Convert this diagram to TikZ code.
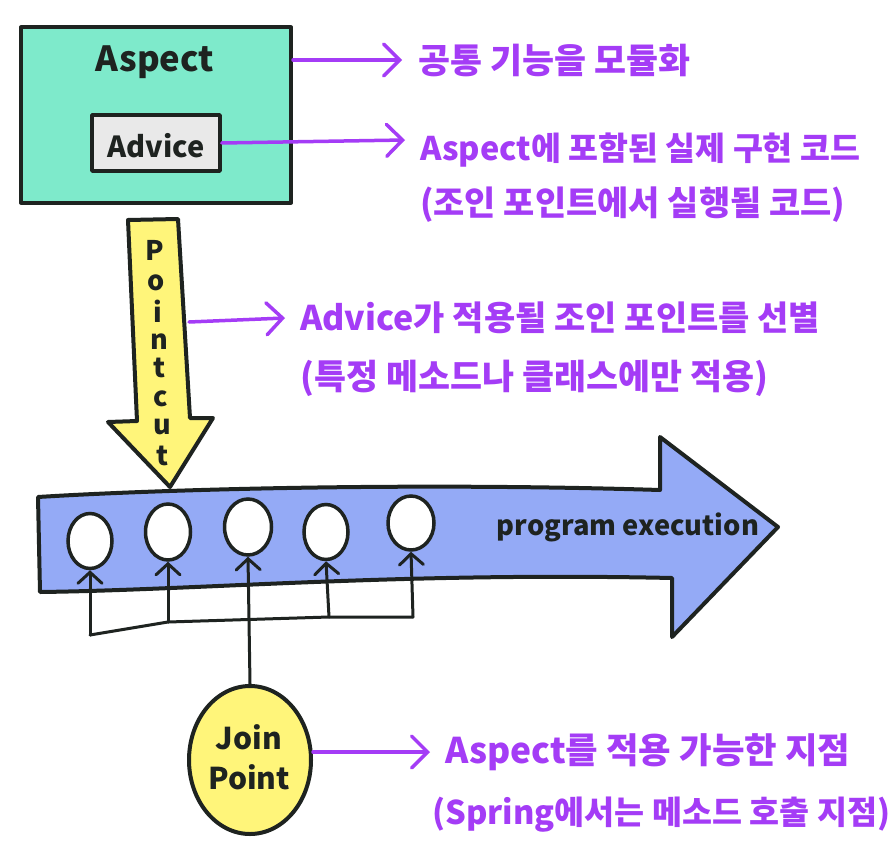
\documentclass[tikz,border=0pt]{standalone}
\usepackage{fontspec}
\usepackage{graphicx}
\setmainfont{Noto Sans CJK KR}
\usetikzlibrary{arrows.meta,shapes.geometric}
\definecolor{mint}{HTML}{7EEACB}
\definecolor{advgray}{HTML}{E9E9E9}
\definecolor{pcyellow}{HTML}{FFF57A}
\definecolor{flowblue}{HTML}{94AAF6}
\definecolor{note}{HTML}{A43CF6}
\definecolor{ink}{HTML}{1E2320}
\newcommand{\fitw}[2]{\resizebox{#1}{!}{#2}}
\tikzset{
  inkline/.style={draw=ink, line width=4pt, line join=round, line cap=round},
  notearrow/.style={draw=note, line width=3.5pt, line cap=round,
    -{Straight Barb[length=16pt,width=32pt,line cap=round]}},
  notetext/.style={text=note, inner sep=0pt, anchor=west, font=\fontsize{28}{30}\selectfont\bfseries},
  pointarrow/.style={draw=ink, line width=3pt, line cap=round,
    -{Straight Barb[length=11pt,width=24pt,line cap=round]}},
  jcircle/.style={ellipse, draw=ink, line width=3.5pt, fill=white,
    minimum width=44pt, minimum height=55pt, inner sep=0pt},
  inktext/.style={text=ink, inner sep=0pt},
  pcletter/.style={text=ink, inner sep=0pt, font=\fontsize{27}{27}\selectfont\bfseries},
}
\begin{document}
\begin{tikzpicture}[x=1pt,y=-1pt]
\useasboundingbox (0,0) rectangle (893,861);
\fill[white] (0,0) rectangle (893,861);

% Aspect box
\node[inkline, fill=mint, rectangle, minimum width=270pt, minimum height=175pt] (aspect) at (156,115) {};
\node[inktext, font=\fontsize{38}{38}\selectfont\bfseries] (aspectlbl) at (155,62) {\fitw{118pt}{Aspect}};
\node[inkline, line width=3.5pt, fill=advgray, rectangle, minimum width=128pt, minimum height=56pt] (advice) at (156,143) {};
\node[inktext, font=\fontsize{30}{30}\selectfont\bfseries] (advicelbl) at (156,146) {\fitw{97pt}{Advice}};

% Pointcut arrow
\coordinate (pcR) at (189,322);
\filldraw[fill=pcyellow, inkline] (128,220) -- (178,219) -- (190,418) -- (213,418) -- (170,487) -- (108,422) -- (137,421) -- cycle;
\node[pcletter] (p1) at (155,250) {P};
\node[pcletter] (p2) at (156,283) {o};
\node[pcletter] (p3) at (158,311) {i};
\node[pcletter] (p4) at (159,342) {n};
\node[pcletter] (p5) at (160,368) {t};
\node[pcletter] (p6) at (161,399) {c};
\node[pcletter] (p7) at (162,427) {u};
\node[pcletter] (p8) at (163,456) {t};

% program execution arrow
\filldraw[fill=flowblue, inkline] (38,497) .. controls (150,490) and (400,482) .. (660,490) -- (660,437) -- (778,527) -- (672,637) -- (672,578) .. controls (400,572) and (200,590) .. (40,592) -- cycle;
\node[inktext, font=\fontsize{30}{30}\selectfont\bfseries] (exec) at (628,527) {\fitw{262pt}{program execution}};

% join point circles
\node[jcircle] (c1) at (90,541) {};
\node[jcircle, minimum width=45pt, minimum height=56pt] (c2) at (168,532) {};
\node[jcircle, minimum width=47pt, minimum height=56pt] (c3) at (248,527) {};
\node[jcircle] (c4) at (326,532) {};
\node[jcircle, minimum width=46pt, minimum height=54pt] (c5) at (411,523) {};

% Join Point
\node[ellipse, draw=ink, line width=4pt, fill=pcyellow, minimum width=122pt, minimum height=148pt, inner sep=0pt] (jp) at (250,760) {};
\node[inktext, font=\fontsize{30}{40}\selectfont\bfseries, align=center] (jplbl) at (249,757) {Join\\Point};

% bracket and arrows
\coordinate (b1) at (90,635);
\coordinate (b2) at (168,622);
\coordinate (b4) at (329,617);
\coordinate (b5) at (413,617);
\draw[inkline, line width=3pt] (b1) -- (b2) -- (b4) -- (b5);
\draw[pointarrow] (b1) -- (c1.south);
\draw[pointarrow] (b2) -- (c2.south);
\draw[pointarrow] (b4) -- (c4.south);
\draw[pointarrow] (b5) -- (c5.south);
\draw[pointarrow] (jp.north) -- (c3.south);

% notes
\node[notetext] (t1) at (418,60) {\fitw{272pt}{공통 기능을 모듈화}};
\node[notetext] (t2) at (420,150) {\fitw{440pt}{Aspect에 포함된 실제 구현 코드}};
\node[notetext] (t3) at (420,205) {\fitw{425pt}{(조인 포인트에서 실행될 코드)}};
\node[notetext] (t4) at (300,318) {\fitw{520pt}{Advice가 적용될 조인 포인트를 선별}};
\node[notetext] (t5) at (300,378) {\fitw{468pt}{(특정 메소드나 클래스에만 적용)}};
\node[notetext] (t6) at (445,752) {\fitw{405pt}{Aspect를 적용 가능한 지점}};
\node[notetext] (t7) at (432,815) {\fitw{458pt}{(Spring에서는 메소드 호출 지점)}};

\draw[notearrow] (aspect.east |- t1.west) -- ([xshift=-16pt]t1.west);
\draw[notearrow] (advice.east) -- ([xshift=-15pt,yshift=10pt]t2.west);
\draw[notearrow] (pcR) -- ([xshift=-15pt]t4.west);
\draw[notearrow] (jp.east |- t6.west) -- ([xshift=-15pt]t6.west);
\end{tikzpicture}
\end{document}
